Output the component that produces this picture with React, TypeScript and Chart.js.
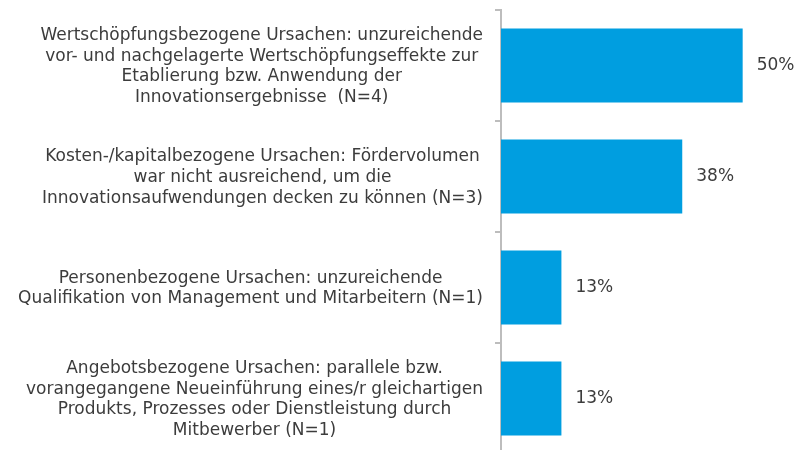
import React, { useEffect, useRef } from "react";
import { Chart, registerables } from "chart.js";

Chart.register(...registerables);

const categories: string[][] = [
  [
    "Wertschöpfungsbezogene Ursachen: unzureichende",
    "vor- und nachgelagerte Wertschöpfungseffekte zur",
    "Etablierung bzw. Anwendung der",
    "Innovationsergebnisse  (N=4)",
  ],
  [
    "Kosten-/kapitalbezogene Ursachen: Fördervolumen",
    "war nicht ausreichend, um die",
    "Innovationsaufwendungen decken zu können (N=3)",
  ],
  [
    "Personenbezogene Ursachen: unzureichende",
    "Qualifikation von Management und Mitarbeitern (N=1)",
  ],
  [
    "Angebotsbezogene Ursachen: parallele bzw.",
    "vorangegangene Neueinführung eines/r gleichartigen",
    "Produkts, Prozesses oder Dienstleistung durch",
    "Mitbewerber (N=1)",
  ],
];

const shares: number[] = [50, 37.5, 12.5, 12.5];

const FONT = "17px 'DejaVu Sans'";
const TEXT_COLOR = "#3c3c3c";
const BAR_COLOR = "#009EE0";
const AXIS_COLOR = "#BDBDBD";

const labelPlugin = {
  id: "customLabels",
  afterDraw(chart: any) {
    const ctx = chart.ctx;
    const yScale = chart.scales.y;
    const area = chart.chartArea;
    ctx.save();
    ctx.font = FONT;
    ctx.fillStyle = TEXT_COLOR;
    ctx.textBaseline = "middle";
    ctx.textAlign = "center";
    const lineH = 20.8;
    const rightEdge = area.left - 18;
    const labels = chart.data.labels as string[][];
    labels.forEach((lines, i) => {
      const cy = yScale.getPixelForTick(i) + 1;
      let maxW = 0;
      lines.forEach((l) => {
        maxW = Math.max(maxW, ctx.measureText(l).width);
      });
      const cx = rightEdge - maxW / 2;
      const top = cy - ((lines.length - 1) * lineH) / 2;
      lines.forEach((l, j) => {
        ctx.fillText(l, cx, top + j * lineH);
      });
    });
    const meta = chart.getDatasetMeta(0);
    ctx.textAlign = "left";
    meta.data.forEach((bar: any, i: number) => {
      const v = chart.data.datasets[0].data[i] as number;
      ctx.fillText(Math.round(v) + "%", bar.x + 14, bar.y);
    });
    ctx.restore();
  },
};

export default function App() {
  const ref = useRef<HTMLCanvasElement>(null);
  useEffect(() => {
    if (!ref.current) return;
    const chart = new Chart(ref.current, {
      type: "bar",
      data: {
        labels: categories,
        datasets: [
          {
            data: shares,
            backgroundColor: BAR_COLOR,
            borderWidth: 0,
            categoryPercentage: 1,
            barPercentage: 0.665,
          },
        ],
      },
      options: {
        indexAxis: "y",
        animation: false,
        responsive: false,
        maintainAspectRatio: false,
        layout: { padding: { top: 10, bottom: 8, left: 0, right: 4 } },
        plugins: {
          legend: { display: false },
          tooltip: { enabled: false },
        },
        scales: {
          x: {
            display: false,
            min: 0,
            max: 60,
          },
          y: {
            afterFit(scale: any) {
              scale.width = 501;
            },
            ticks: { display: false },
            grid: {
              display: true,
              drawOnChartArea: false,
              drawTicks: true,
              tickLength: 6,
              color: AXIS_COLOR,
              lineWidth: 2,
              offset: true,
            },
            border: { display: true, color: AXIS_COLOR, width: 2 },
          },
        },
      },
      plugins: [labelPlugin],
    });
    return () => chart.destroy();
  }, []);
  return (
    <div
      style={{
        position: "fixed",
        left: 0,
        top: 0,
        width: 795,
        height: 450,
        overflow: "hidden",
        background: "#fff",
      }}
    >
      <canvas ref={ref} width={795} height={462} style={{ display: "block" }} />
    </div>
  );
}
